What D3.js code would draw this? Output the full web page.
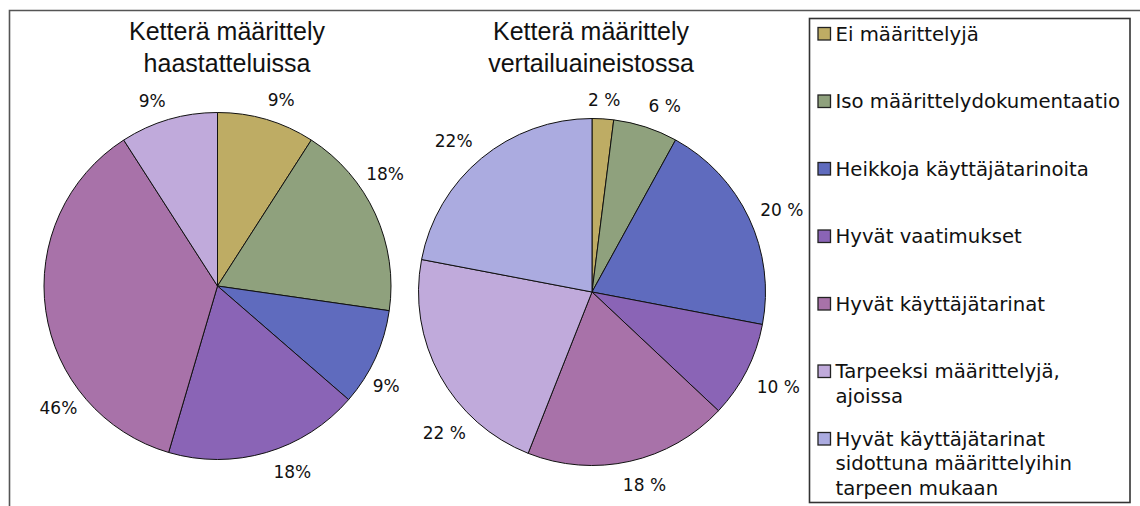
<!DOCTYPE html>
<html><head><meta charset="utf-8">
<script src="https://cdn.jsdelivr.net/npm/d3@7"></script>
<style>html,body{margin:0;padding:0;background:#fff;}svg{display:block;}</style>
</head><body>
<script>
// ---- data ----
const categories = [
  "Ei määrittelyjä",
  "Iso määrittelydokumentaatio",
  "Heikkoja käyttäjätarinoita",
  "Hyvät vaatimukset",
  "Hyvät käyttäjätarinat",
  "Tarpeeksi määrittelyjä, ajoissa",
  "Hyvät käyttäjätarinat sidottuna määrittelyihin tarpeen mukaan"
];
const legendLines = [
  ["Ei määrittelyjä"],
  ["Iso määrittelydokumentaatio"],
  ["Heikkoja käyttäjätarinoita"],
  ["Hyvät vaatimukset"],
  ["Hyvät käyttäjätarinat"],
  ["Tarpeeksi määrittelyjä,", "ajoissa"],
  ["Hyvät käyttäjätarinat", "sidottuna määrittelyihin", "tarpeen mukaan"]
];
const titleInterviews = ["Ketterä määrittely", "haastatteluissa"];
const titleComparison = ["Ketterä määrittely", "vertailuaineistossa"];
const interviewValues = [1, 2, 1, 2, 4, 1, 0];
const interviewLabels = ["9%", "18%", "9%", "18%", "46%", "9%", ""];
const comparisonValues = [2, 6, 20, 9, 19, 22, 22];
const comparisonLabels = ["2 %", "6 %", "20 %", "10 %", "18 %", "22 %", "22%"];
const colors = ["#BEAC64", "#8FA17D", "#5F6BBE", "#8A64B6", "#A872A9", "#C0AADB", "#ABABE0"];

// ---- drawing ----
const W = 1140, H = 506;
const svg = d3.select("body").append("svg").attr("width", W).attr("height", H);

// outer frame (top and left edges)
svg.append("path").attr("d", `M9.5,506 V10.5 H1140`).attr("fill", "none")
  .attr("stroke", "#555").attr("stroke-width", 1.6);

const pie = d3.pie().sort(null).value(d => d);

function drawPie(cx, cy, r, values, labels, title, titleX, angleNudge, radialNudge) {
  const g = svg.append("g").attr("transform", `translate(${cx},${cy})`);
  const arcs = pie(values).filter(a => a.data > 0);
  const arc = d3.arc().innerRadius(0).outerRadius(r);
  g.selectAll("path.slice").data(arcs).join("path")
    .attr("class", "slice")
    .attr("d", arc)
    .attr("fill", d => colors[d.index])
    .attr("stroke", "#111").attr("stroke-width", 1);
  const gap = 13, h = 26;
  g.selectAll("text.lbl").data(arcs).join("text")
    .attr("class", "lbl")
    .attr("text-anchor", "middle")
    .attr("font-family", "DejaVu Sans, sans-serif")
    .attr("font-size", 17)
    .attr("fill", "#111")
    .text(d => labels[d.index])
    .each(function(d) {
      const w = this.getComputedTextLength();
      const a = (d.startAngle + d.endAngle) / 2 + angleNudge[d.index] * Math.PI / 180;
      const s = Math.sin(a), c = Math.cos(a);
      const R = r + gap + radialNudge[d.index];
      const x = R * s + s * w / 2;
      const y = -R * c - c * h / 2;
      d3.select(this).attr("x", x).attr("y", y + 6.2);
    });
  const t = svg.append("text").attr("x", titleX).attr("y", 39.5)
    .attr("text-anchor", "middle")
    .attr("font-family", "Liberation Sans, Arial, sans-serif")
    .attr("font-size", 25).attr("fill", "#111");
  title.forEach((line, i) => t.append("tspan").attr("x", titleX).attr("dy", i === 0 ? 0 : 32.4).text(line));
}

drawPie(217.5, 286, 173.5, interviewValues, interviewLabels, titleInterviews, 227,
  [2.5, -10, 6, -5, -30, -3, 0], [-3, -2, -4, 0, -3, -3, 0]);
drawPie(592, 292, 173.5, comparisonValues, comparisonLabels, titleComparison, 591,
  [0, 3, 1, 1, -2, -16, -2], [-7, 0, 0, 3, 0, 0, 3]);

// legend
const lg = svg.append("g");
lg.append("rect").attr("x", 809.5).attr("y", 18.5).attr("width", 320.5).attr("height", 484)
  .attr("fill", "#fff").attr("stroke", "#333").attr("stroke-width", 1.6);
const ly = d3.scaleLinear().domain([0, 6]).range([26.5, 431.5]);
const items = lg.selectAll("g.item").data(categories).join("g").attr("class", "item")
  .attr("transform", (d, i) => `translate(818,${ly(i)})`);
items.append("rect").attr("x", 0).attr("y", 1).attr("width", 12.5).attr("height", 12.5)
  .attr("fill", (d, i) => colors[i]).attr("stroke", "#222").attr("stroke-width", 1.3);
items.each(function(d, i) {
  const t = d3.select(this).append("text").attr("x", 17.5).attr("y", 14)
    .attr("font-family", "DejaVu Sans, sans-serif").attr("font-size", 19.7).attr("fill", "#111");
  legendLines[i].forEach((line, k) => t.append("tspan").attr("x", 17.5).attr("dy", k === 0 ? 0 : 24.5).text(line));
});
</script>
</body></html>
